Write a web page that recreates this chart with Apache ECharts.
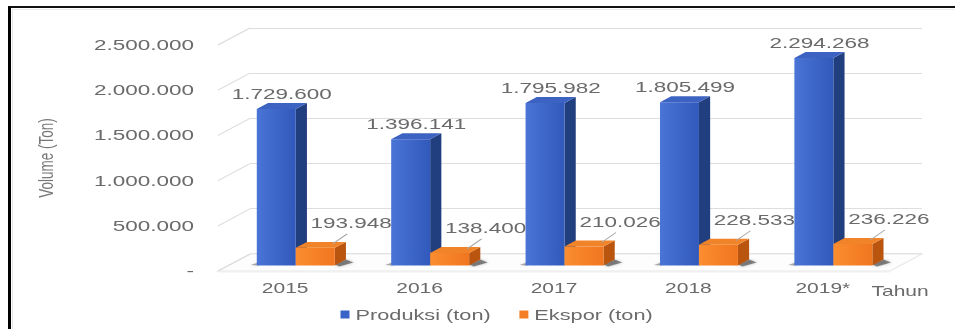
<!DOCTYPE html>
<html>
<head>
<meta charset="utf-8">
<script src="https://cdn.jsdelivr.net/npm/echarts@6/dist/echarts.min.js"></script>
<style>
  html, body { margin: 0; padding: 0; background: #fff; overflow: hidden; }
  #page { position: relative; width: 955px; height: 329px; overflow: hidden; background: #fff; }
  #frame { position: absolute; left: 8px; top: 6px; width: 1000px; height: 400px;
           border-left: 3px solid #000; border-top: 2px solid #111; box-sizing: border-box; }
  #inner { position: absolute; left: 12px; top: 9px; width: 1000px; height: 400px;
           border-left: 1px solid #e6e6e6; border-top: 1px solid #ececec; box-sizing: border-box; }
  /* chart is laid out narrow and widened horizontally */
  #chart { position: absolute; left: 0; top: 0; width: 637px; height: 329px;
           transform: scaleX(1.5); transform-origin: 0 0; }
</style>
</head>
<body>
<div id="page">
  <div id="frame"></div>
  <div id="inner"></div>
  <div id="chart"></div>
</div>
<script>
const years = ['2015', '2016', '2017', '2018', '2019*'];
const produksi = [1729600, 1396141, 1795982, 1805499, 2294268];
const ekspor = [193948, 138400, 210026, 228533, 236226];
const yTicks = [0, 500000, 1000000, 1500000, 2000000, 2500000];
const seriesNames = ['Produksi (ton)', 'Ekspor (ton)'];

const FONT = 'Liberation Sans, Arial, sans-serif';
const TXT = '#6a6a6a';
const GRID_LINE = '#dedede';

// depth of the 3D box (front plane -> back wall)
const DX = 21.33, DY = -17;
// bar slab sits between these depth fractions
const F0 = 0.33, F1 = 0.68;
const BAR_FRAC = 0.29;

function fmt(v) {
  return String(v).replace(/\B(?=(\d{3})+(?!\d))/g, '.');
}

const faces = [
  {
    front: new echarts.graphic.LinearGradient(0, 0, 1, 0, [
      { offset: 0, color: '#4a74d6' }, { offset: 1, color: '#3059bb' }]),
    side: '#213f7f', top: '#3d63c2', legend: '#3a63c8'
  },
  {
    front: new echarts.graphic.LinearGradient(0, 0, 1, 0, [
      { offset: 0, color: '#fb8d30' }, { offset: 1, color: '#f0761f' }]),
    side: '#b9550f', top: '#f18428', legend: '#f47e24'
  }
];

function barItem(si) {
  return function (params, api) {
    const idx = api.value(0), val = api.value(1);
    const top = api.coord([idx, val]);
    const base = api.coord([idx, 0]);
    const bw = api.size([1, 0])[0] * BAR_FRAC;
    const ox = F0 * DX, oy = F0 * DY;
    const sx = (F1 - F0) * DX, sy = (F1 - F0) * DY;
    const cx = top[0] + ox;
    const xl = si === 0 ? cx - bw : cx;
    const xr = xl + bw;
    const yt = top[1] + oy, yb = base[1] + oy;
    const f = faces[si];
    const children = [];
    // soft floor shadow at the base
    if (si === 1) {
      children.push({
        type: 'polygon',
        shape: { points: [[xr, yb - 1], [xr + sx, yb + sy], [xr + sx + 5, yb + sy + 3], [xr + 3, yb + 1]] },
        style: { fill: 'rgba(50,50,50,0.55)', shadowBlur: 3, shadowColor: 'rgba(0,0,0,0.45)' }
      });
    } else {
      children.push({
        type: 'polygon',
        shape: { points: [[xl - 4, yb - 0.5], [xl + 1, yb - 3], [xl + 1, yb]] },
        style: { fill: 'rgba(50,50,50,0.4)', shadowBlur: 2, shadowColor: 'rgba(0,0,0,0.35)' }
      });
    }
    children.push({
      type: 'polygon',
      shape: { points: [[xr, yb], [xr, yt], [xr + sx, yt + sy], [xr + sx, yb + sy]] },
      style: { fill: f.side }
    });
    children.push({
      type: 'rect',
      shape: { x: xl, y: yt, width: bw, height: yb - yt },
      style: { fill: f.front }
    });
    children.push({
      type: 'polygon',
      shape: { points: [[xl, yt], [xr, yt], [xr + sx, yt + sy], [xl + sx, yt + sy]] },
      style: { fill: f.top }
    });
    if (si === 0) {
      children.push({
        type: 'text',
        style: {
          text: fmt(val), x: (xl + xr + sx) / 2, y: yt - 15,
          align: 'center', verticalAlign: 'middle', textAlign: 'center', textVerticalAlign: 'middle',
          fontSize: 15, fontFamily: FONT, fill: TXT
        }
      });
    } else {
      const lx = (xl + xr) / 2 + 24, ly = yt - 25;
      children.push({
        type: 'line',
        shape: { x1: xr - 1.3, y1: yt - 4, x2: lx - 2.7, y2: ly + 11 },
        style: { stroke: '#a6a6a6', lineWidth: 0.8 }
      });
      children.push({
        type: 'text',
        style: {
          text: fmt(val), x: lx, y: ly,
          align: 'center', verticalAlign: 'middle', textAlign: 'center', textVerticalAlign: 'middle',
          fontSize: 15, fontFamily: FONT, fill: TXT
        }
      });
    }
    return { type: 'group', children: children };
  };
}

// floor of the 3D box
function floorItem(params, api) {
  const cs = params.coordSys;
  const z0 = api.coord([0, 0])[1];
  const x0 = cs.x, x1 = cs.x + cs.width;
  return {
    type: 'group',
    children: [
      {
        type: 'polygon',
        shape: { points: [[x0, z0], [x1, z0], [x1 + DX, z0 + DY], [x0 + DX, z0 + DY]] },
        style: { fill: '#fdfdfd', stroke: '#e8e8e8', lineWidth: 1 }
      },
      {
        type: 'rect',
        shape: { x: x0, y: z0, width: cs.width, height: 1.5 },
        style: { fill: '#f0f0f0' }
      }
    ]
  };
}

// side wall lines from each tick on the front plane to the back wall
function wallItem(params, api) {
  const cs = params.coordSys;
  const y = api.coord([0, api.value(0)])[1];
  return {
    type: 'line',
    shape: { x1: cs.x, y1: y, x2: cs.x + DX, y2: y + DY },
    style: { stroke: GRID_LINE, lineWidth: 1 }
  };
}

const chart = echarts.init(document.getElementById('chart'), null, { renderer: 'svg', width: 637, height: 329 });

chart.setOption({
  animation: false,
  textStyle: { fontFamily: FONT },
  grid: [
    { left: 145.33, right: 43.67, top: 45, bottom: 58 },
    { left: 166.67, right: 22.33, top: 28, bottom: 76 }
  ],
  xAxis: [
    {
      type: 'category', gridIndex: 0, data: years,
      axisLine: { show: false }, axisTick: { show: false },
      axisLabel: { fontSize: 14, color: TXT, margin: 10, fontFamily: FONT },
      splitLine: { show: false }
    },
    { type: 'value', gridIndex: 1, show: false }
  ],
  yAxis: [
    {
      type: 'value', gridIndex: 0, min: 0, max: 2500000, interval: 500000,
      name: 'Volume (Ton)', nameLocation: 'middle', nameGap: 108, nameRotate: 90,
      nameTextStyle: { fontSize: 13.5, color: '#777', fontFamily: FONT },
      axisLine: { show: false }, axisTick: { show: false }, splitLine: { show: false },
      axisLabel: {
        fontSize: 15, color: TXT, margin: 16, fontFamily: FONT,
        formatter: v => (v === 0 ? '-' : fmt(v))
      }
    },
    {
      type: 'value', gridIndex: 1, min: 0, max: 2500000, interval: 500000,
      axisLine: { show: false }, axisTick: { show: false }, axisLabel: { show: false },
      splitLine: { show: true, lineStyle: { color: GRID_LINE, width: 1 } }
    }
  ],
  legend: {
    data: seriesNames, left: 222, top: 302, icon: 'rect',
    itemWidth: 6, itemHeight: 8, itemGap: 19,
    textStyle: { fontSize: 14.5, color: TXT, fontFamily: FONT, padding: [0, 0, 0, -1] }
  },
  graphic: [
    {
      type: 'text', left: 581, top: 284,
      style: { text: 'Tahun', fontSize: 14, fill: TXT, fontFamily: FONT }
    }
  ],
  series: [
    {
      type: 'custom', name: 'floor', xAxisIndex: 0, yAxisIndex: 0, z: 1,
      data: [[0, 0]], renderItem: floorItem, silent: true
    },
    {
      type: 'custom', name: 'wall', xAxisIndex: 0, yAxisIndex: 0, z: 1,
      data: yTicks.map(v => [v]), encode: { y: 0 }, renderItem: wallItem, silent: true
    },
    {
      type: 'custom', name: seriesNames[0], xAxisIndex: 0, yAxisIndex: 0, z: 3,
      itemStyle: { color: faces[0].legend },
      data: produksi.map((v, i) => [i, v]), encode: { x: 0, y: 1 },
      renderItem: barItem(0)
    },
    {
      type: 'custom', name: seriesNames[1], xAxisIndex: 0, yAxisIndex: 0, z: 4,
      itemStyle: { color: faces[1].legend },
      data: ekspor.map((v, i) => [i, v]), encode: { x: 0, y: 1 },
      renderItem: barItem(1)
    }
  ]
});
</script>
</body>
</html>
